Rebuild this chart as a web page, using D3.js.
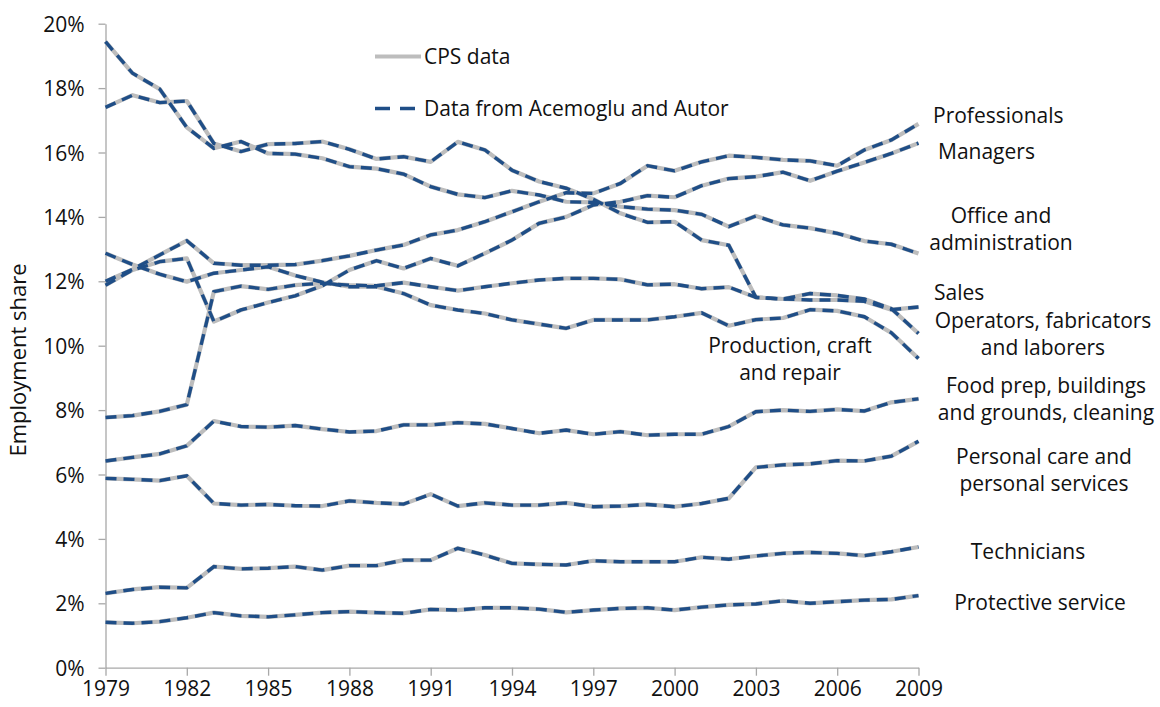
<!DOCTYPE html>
<meta charset="utf-8">
<html>
<head>
<script src="https://cdn.jsdelivr.net/npm/d3@7"></script>
<style>
body { margin: 0; background: #fff; }
text { font-family: 'Open Sans', sans-serif; fill: #111; }
.axis path, .axis line { stroke: #a8a8a8; stroke-width: 1.3px; }
.axis text { font-size: 21px; fill: #111; }
</style>
</head>
<body>
<div id="chart"></div>
<script>

// years on the x axis
var years = d3.range(1979, 2010);

// employment shares (%), 1979..2009
var professionals = [12.0,12.37,12.82,13.26,12.56,12.5,12.5,12.52,12.64,12.79,12.97,13.13,13.44,13.59,13.85,14.16,14.47,14.75,14.73,15.04,15.59,15.43,15.71,15.9,15.85,15.77,15.74,15.59,16.08,16.39,16.89];
var managers = [11.88,12.35,12.61,12.71,10.75,11.11,11.34,11.55,11.86,12.35,12.64,12.4,12.71,12.48,12.87,13.28,13.8,14.0,14.37,14.47,14.66,14.61,14.97,15.19,15.25,15.39,15.12,15.42,15.69,15.97,16.29];
var office = [19.44,18.46,17.97,16.78,16.13,16.34,15.97,15.95,15.82,15.56,15.5,15.33,14.94,14.7,14.6,14.81,14.68,14.47,14.45,14.32,14.24,14.21,14.08,13.7,14.03,13.75,13.65,13.49,13.25,13.15,12.86];
var sales = [7.77,7.83,7.96,8.17,11.68,11.85,11.75,11.88,11.94,11.88,11.86,11.96,11.83,11.71,11.83,11.94,12.04,12.09,12.09,12.06,11.89,11.91,11.77,11.82,11.5,11.45,11.42,11.42,11.38,11.12,11.2];
var operators = [17.4,17.78,17.55,17.6,16.28,16.03,16.26,16.28,16.34,16.1,15.8,15.87,15.71,16.33,16.08,15.45,15.1,14.89,14.55,14.11,13.83,13.85,13.28,13.12,11.5,11.45,11.62,11.56,11.45,11.15,10.38];
var production = [12.87,12.52,12.22,11.99,12.25,12.35,12.45,12.18,11.97,11.83,11.83,11.62,11.26,11.11,11.0,10.8,10.67,10.54,10.8,10.8,10.8,10.9,11.02,10.62,10.81,10.86,11.12,11.08,10.9,10.4,9.6];
var foodPrep = [6.42,6.53,6.64,6.89,7.66,7.49,7.47,7.52,7.41,7.32,7.35,7.54,7.54,7.61,7.57,7.43,7.28,7.38,7.25,7.33,7.22,7.25,7.25,7.49,7.95,8.0,7.96,8.02,7.97,8.24,8.35];
var personalCare = [5.88,5.85,5.81,5.96,5.1,5.05,5.07,5.03,5.02,5.18,5.12,5.08,5.39,5.02,5.12,5.05,5.05,5.12,5.0,5.02,5.07,5.0,5.1,5.26,6.22,6.3,6.33,6.43,6.42,6.57,7.03];
var technicians = [2.31,2.43,2.5,2.48,3.14,3.07,3.09,3.14,3.03,3.17,3.17,3.34,3.34,3.71,3.5,3.24,3.21,3.19,3.32,3.29,3.29,3.29,3.43,3.37,3.47,3.55,3.58,3.55,3.48,3.6,3.75];
var protective = [1.41,1.38,1.43,1.55,1.71,1.61,1.58,1.64,1.71,1.74,1.71,1.69,1.81,1.79,1.86,1.86,1.82,1.72,1.79,1.84,1.86,1.79,1.88,1.95,1.98,2.08,2.0,2.05,2.1,2.12,2.24];

// the CPS series and the Acemoglu-Autor series coincide on the chart
var series = [professionals, managers, office, sales, operators, production,
              foodPrep, personalCare, technicians, protective];

// right-hand labels
var labelLines = [["Professionals"], ["Managers"], ["Office and", "administration"], ["Sales"],
                  ["Operators, fabricators", "and laborers"], ["Production, craft", "and repair"],
                  ["Food prep, buildings", "and grounds, cleaning"], ["Personal care and", "personal services"],
                  ["Technicians"], ["Protective service"]];
var labelAnchors = [[933, 123, "start"], [938, 159, "start"], [1001, 223, "middle"], [934, 300, "start"],
                    [1043, 328, "middle"], [790, 353, "middle"], [1046, 393, "middle"],
                    [1044, 464, "middle"], [1028, 559, "middle"], [1040, 610, "middle"]];

var xTicks = d3.range(1979, 2010, 3);
var yTicks = d3.range(0, 0.2001, 0.02);

var margin = {top: 23.7, left: 105.5},
    width = 813,
    height = 644;

var svg = d3.select("#chart")
  .append("svg")
  .attr("width", 1160)
  .attr("height", 707);

var g = svg.append("g")
  .attr("transform", "translate(" + margin.left + "," + margin.top + ")");

var x = d3.scaleLinear().domain([1979, 2009]).range([0, width]);
var y = d3.scaleLinear().domain([0, 0.20]).range([height, 0]);

// axes
g.append("g")
  .attr("class", "axis")
  .call(d3.axisLeft(y).tickValues(yTicks).tickSize(7).tickSizeOuter(0).tickPadding(14).tickFormat(d3.format(".0%")))
  .call(function(a) { a.selectAll("text").attr("dy", "0.36em"); });

g.append("g")
  .attr("class", "axis")
  .attr("transform", "translate(0," + height + ")")
  .call(d3.axisBottom(x).tickValues(xTicks).tickSize(8).tickSizeOuter(0).tickPadding(5).tickFormat(d3.format("d")));

g.selectAll(".axis .domain").attr("stroke", "#a8a8a8");

// y-axis title
svg.append("text")
  .attr("transform", "translate(26,360) rotate(-90)")
  .attr("text-anchor", "middle")
  .style("font-size", "22px")
  .text("Employment share");

var line = d3.line()
  .x(function(d, i) { return x(years[i]); })
  .y(function(d) { return y(d / 100); });

// CPS data: grey solid
g.selectAll(".cps")
  .data(series)
  .enter()
  .append("path")
  .attr("class", "cps")
  .attr("d", line)
  .attr("fill", "none")
  .attr("stroke", "#bdbdbd")
  .attr("stroke-width", 4.2)
  .attr("stroke-linejoin", "round");

// Acemoglu and Autor: blue dashed
g.selectAll(".aa")
  .data(series)
  .enter()
  .append("path")
  .attr("class", "aa")
  .attr("d", line)
  .attr("fill", "none")
  .attr("stroke", "#1f4e87")
  .attr("stroke-width", 3.4)
  .attr("stroke-dasharray", "11,7");

// legend
var legend = svg.append("g");
legend.append("line")
  .attr("x1", 375).attr("x2", 421).attr("y1", 56.5).attr("y2", 56.5)
  .attr("stroke", "#bdbdbd").attr("stroke-width", 4.2);
legend.append("text")
  .attr("x", 424).attr("y", 63.5)
  .style("font-size", "21px")
  .text("CPS data");
legend.append("line")
  .attr("x1", 375).attr("x2", 416).attr("y1", 108.5).attr("y2", 108.5)
  .attr("stroke", "#1f4e87").attr("stroke-width", 3.4).attr("stroke-dasharray", "15,10");
legend.append("text")
  .attr("x", 424).attr("y", 115.5)
  .style("font-size", "21px")
  .text("Data from Acemoglu and Autor");

// series labels
labelLines.forEach(function(lines, i) {
  var a = labelAnchors[i];
  var t = svg.append("text")
    .attr("x", a[0]).attr("y", a[1])
    .attr("text-anchor", a[2])
    .style("font-size", "21px");
  lines.forEach(function(s, j) {
    t.append("tspan").attr("x", a[0]).attr("dy", j === 0 ? 0 : 27).text(s);
  });
});

</script>
</body>
</html>
